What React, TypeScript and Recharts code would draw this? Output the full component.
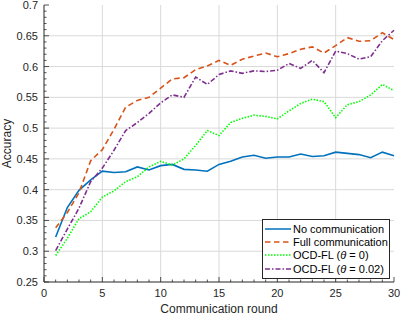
import React from "react";
import {
  LineChart,
  Line,
  XAxis,
  YAxis,
  ReferenceLine,
  Legend,
} from "recharts";

const ROUNDS = [
  1, 2, 3, 4, 5, 6, 7, 8, 9, 10, 11, 12, 13, 14, 15, 16, 17, 18, 19, 20, 21,
  22, 23, 24, 25, 26, 27, 28, 29, 30,
];
const NO_COMM = [
  0.323, 0.371, 0.399, 0.416, 0.43, 0.428, 0.429, 0.437, 0.432, 0.439, 0.441,
  0.433, 0.432, 0.43, 0.441, 0.446, 0.453, 0.456, 0.451, 0.453, 0.453, 0.458,
  0.454, 0.455, 0.461, 0.459, 0.457, 0.452, 0.461, 0.455,
];
const FULL_COMM = [
  0.338, 0.363, 0.395, 0.447, 0.465, 0.498, 0.534, 0.545, 0.55, 0.565, 0.58,
  0.582, 0.595, 0.601, 0.61, 0.602, 0.612, 0.617, 0.622, 0.616, 0.621, 0.628,
  0.632, 0.622, 0.634, 0.647, 0.641, 0.642, 0.655, 0.644,
];
const OCD_0 = [
  0.293, 0.321, 0.353, 0.364, 0.388, 0.398, 0.413, 0.421, 0.437, 0.446, 0.44,
  0.45, 0.472, 0.496, 0.488, 0.509, 0.516, 0.521, 0.519, 0.515, 0.528, 0.54,
  0.547, 0.543, 0.517, 0.538, 0.543, 0.554, 0.571, 0.561,
];
const OCD_002 = [
  0.301, 0.336, 0.37, 0.413, 0.435, 0.464, 0.496, 0.509, 0.524, 0.541, 0.554,
  0.55, 0.583, 0.571, 0.587, 0.593, 0.589, 0.593, 0.592, 0.594, 0.605, 0.597,
  0.61, 0.59, 0.625, 0.621, 0.612, 0.616, 0.642, 0.659,
];

const X_MAJOR = [0, 5, 10, 15, 20, 25, 30];
const Y_MAJOR = [0.25, 0.3, 0.35, 0.4, 0.45, 0.5, 0.55, 0.6, 0.65, 0.7];

// minor ticks: every round on x, every 0.01 on y
const X_TICKS = Array.from({ length: 31 }, (_, i) => i);
const Y_TICKS = Array.from({ length: 46 }, (_, i) => (25 + i) / 100);

const data = ROUNDS.map((r, i) => ({
  round: r,
  none: NO_COMM[i],
  full: FULL_COMM[i],
  ocd0: OCD_0[i],
  ocd2: OCD_002[i],
}));

const AX = "#262626";
const FONT = '"Liberation Sans", Arial, sans-serif';
const GRID = "#d9d9d9";

const SERIES = [
  { key: "none", color: "#0072BD", dash: undefined, width: 1.6, label: <>No communication</> },
  { key: "full", color: "#D95319", dash: "5.5 3.5", width: 1.6, label: <>Full communication</> },
  { key: "ocd0", color: "#00FF00", dash: "1.5 1.5", width: 1.6, label: <>OCD-FL (<i>θ</i> = 0)</> },
  { key: "ocd2", color: "#7E2F8E", dash: "5 2 1.5 2", width: 1.6, label: <>OCD-FL (<i>θ</i> = 0.02)</> },
];

const isMajorX = (v: number) => v % 5 === 0;
const isMajorY = (v: number) => Math.round(v * 100) % 5 === 0;

function BottomTick(props: any) {
  const { x, y, payload } = props;
  const major = isMajorX(payload.value);
  return (
    <g>
      <line x1={x} x2={x} y1={y} y2={y - (major ? 5 : 2.5)} stroke={AX} strokeWidth={0.8} />
      {major && (
        <text x={x} y={y + 15} textAnchor="middle" fill={AX} fontSize={11} fontFamily={FONT}>
          {payload.value}
        </text>
      )}
    </g>
  );
}

function TopTick(props: any) {
  const { x, y, payload } = props;
  const major = isMajorX(payload.value);
  return <line x1={x} x2={x} y1={y} y2={y + (major ? 5 : 2.5)} stroke={AX} strokeWidth={0.8} />;
}

function LeftTick(props: any) {
  const { x, y, payload } = props;
  const major = isMajorY(payload.value);
  return (
    <g>
      <line x1={x} x2={x + (major ? 5 : 2.5)} y1={y} y2={y} stroke={AX} strokeWidth={0.8} />
      {major && (
        <text x={x - 6} y={y} dy="0.36em" textAnchor="end" fill={AX} fontSize={11} fontFamily={FONT}>
          {String(payload.value)}
        </text>
      )}
    </g>
  );
}

function RightTick(props: any) {
  const { x, y, payload } = props;
  const major = isMajorY(payload.value);
  return <line x1={x - (major ? 5 : 2.5)} x2={x} y1={y} y2={y} stroke={AX} strokeWidth={0.8} />;
}

function LegendBox() {
  return (
    <div
      style={{
        border: `1px solid ${AX}`,
        background: "#fff",
        padding: "2px 0 3px 0",
        fontFamily: FONT,
        fontSize: 11,
        color: "#000",
        boxSizing: "border-box",
      }}
    >
      {SERIES.map((s) => (
        <div key={s.key} style={{ display: "flex", alignItems: "center", height: 13.3, whiteSpace: "nowrap" }}>
          <svg width={27} height={6} style={{ marginLeft: 2, marginRight: 1, flex: "none" }}>
            <line x1={0} x2={26} y1={3} y2={3} stroke={s.color} strokeWidth={1.5} strokeDasharray={s.dash} />
          </svg>
          <span>{s.label}</span>
        </div>
      ))}
    </div>
  );
}

export default function App() {
  return (
    <div style={{ position: "absolute", left: 0, top: 0, background: "#fff" }}>
      <LineChart width={407} height={317} data={data} margin={{ top: 5, right: 13, left: 0, bottom: 0 }}>
        {X_MAJOR.slice(1, -1).map((v) => (
          <ReferenceLine key={"gx" + v} x={v} stroke={GRID} strokeWidth={1} />
        ))}
        {Y_MAJOR.slice(1, -1).map((v) => (
          <ReferenceLine key={"gy" + v} y={v} stroke={GRID} strokeWidth={1} />
        ))}
        <XAxis
          dataKey="round"
          type="number"
          domain={[0, 30]}
          ticks={X_TICKS}
          interval={0}
          height={35}
          tickSize={0}
          tickMargin={0}
          tickLine={false}
          tick={<BottomTick />}
          axisLine={{ stroke: AX }}
          label={{
            value: "Communication round",
            position: "insideBottom",
            offset: 4,
            style: { fontSize: 12, fill: AX, fontFamily: FONT },
          }}
        />
        <XAxis
          xAxisId="top"
          orientation="top"
          dataKey="round"
          type="number"
          domain={[0, 30]}
          ticks={X_TICKS}
          interval={0}
          height={0}
          tickSize={0}
          tickMargin={0}
          tickLine={false}
          tick={<TopTick />}
          axisLine={{ stroke: AX }}
        />
        <YAxis
          type="number"
          domain={[0.25, 0.7]}
          ticks={Y_TICKS}
          interval={0}
          width={44}
          tickSize={0}
          tickMargin={0}
          tickLine={false}
          tick={<LeftTick />}
          axisLine={{ stroke: AX }}
          allowDataOverflow
          label={(p: any) => {
            const vb = p.viewBox || { y: 5, height: 277 };
            const cy = vb.y + vb.height / 2;
            return (
              <text
                x={11}
                y={cy}
                transform={`rotate(-90 11 ${cy})`}
                textAnchor="middle"
                fill={AX}
                fontSize={12}
                fontFamily={FONT}
              >
                Accuracy
              </text>
            );
          }}
        />
        <YAxis
          yAxisId="right"
          orientation="right"
          type="number"
          domain={[0.25, 0.7]}
          ticks={Y_TICKS}
          interval={0}
          width={0}
          tickSize={0}
          tickMargin={0}
          tickLine={false}
          tick={<RightTick />}
          axisLine={{ stroke: AX }}
          allowDataOverflow
        />
        {SERIES.map((s) => (
          <Line
            key={s.key}
            type="linear"
            dataKey={s.key}
            stroke={s.color}
            strokeWidth={s.width}
            strokeDasharray={s.dash}
            dot={false}
            activeDot={false}
            isAnimationActive={false}
          />
        ))}
        <Legend
          layout="vertical"
          align="center"
          verticalAlign="middle"
          content={() => <LegendBox />}
          wrapperStyle={{ left: 262, top: 219, width: 128, height: "auto" }}
        />
      </LineChart>
    </div>
  );
}
